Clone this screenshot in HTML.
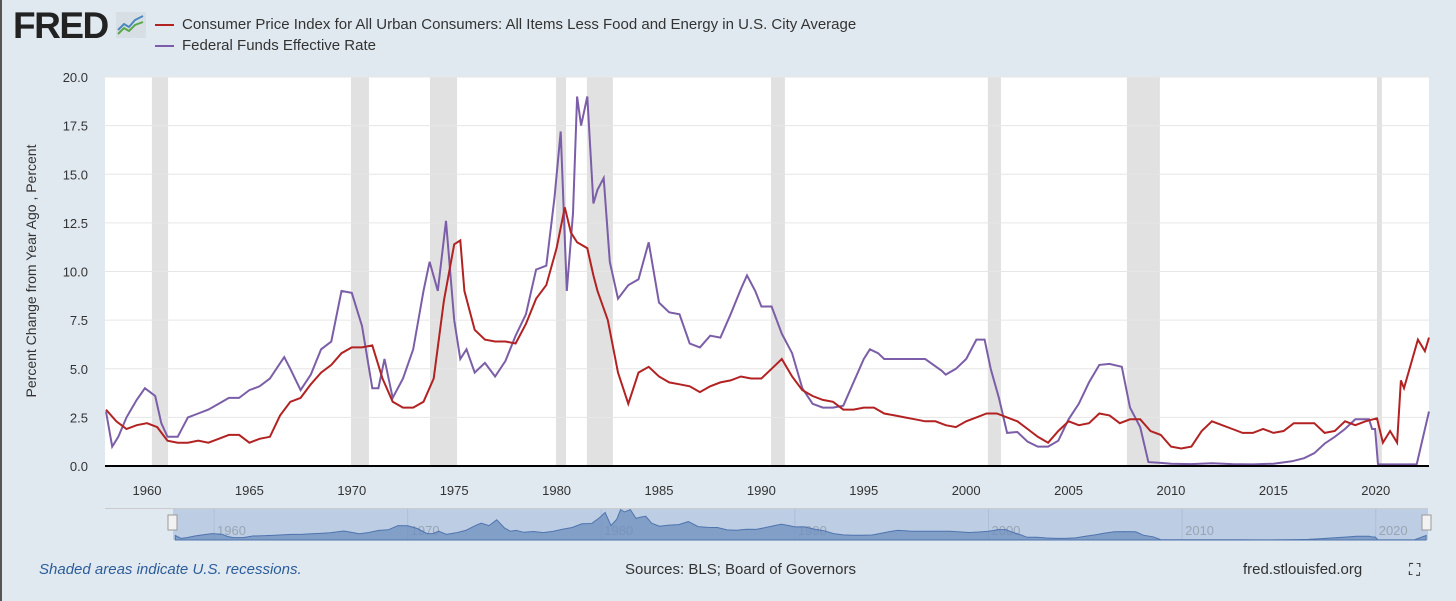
<!DOCTYPE html>
<html><head><meta charset="utf-8"><style>
body{margin:0;width:1456px;height:601px;background:#e1e9f0;font-family:"Liberation Sans",sans-serif;overflow:hidden;position:relative}
#lb{position:absolute;left:0;top:0;width:2px;height:601px;background:#555}
.t{position:absolute;white-space:nowrap}
</style></head><body>
<div id="lb"></div>
<div class="t" style="left:13px;top:5px;font-size:37px;font-weight:900;color:#222;letter-spacing:-1.5px">FRED</div>
<svg class="t" style="left:116px;top:12px" width="30" height="26"><rect width="30" height="26" fill="#d8dfe4"/><polyline points="2,18 8,12 13,15 19,8 27,4" fill="none" stroke="#4a88c0" stroke-width="2"/><polyline points="2,22 8,16 13,19 19,13 27,10" fill="none" stroke="#5aa84a" stroke-width="2"/></svg>
<div class="t" style="left:155px;top:16px;font-size:15px;color:#333"><span style="display:inline-block;width:19px;height:2px;background:#b22222;vertical-align:middle;margin-right:8px"></span>Consumer Price Index for All Urban Consumers: All Items Less Food and Energy in U.S. City Average</div>
<div class="t" style="left:155px;top:37px;font-size:15px;color:#333"><span style="display:inline-block;width:19px;height:2px;background:#7b5ea7;vertical-align:middle;margin-right:8px"></span>Federal Funds Effective Rate</div>
<svg id="c" width="1456" height="601" style="position:absolute;left:0;top:0"></svg>
<div class="t" style="left:39px;top:561px;font-size:15px;font-style:italic;color:#2b5d9b">Shaded areas indicate U.S. recessions.</div>
<div class="t" style="left:625px;top:561px;font-size:15px;color:#333">Sources: BLS; Board of Governors</div>
<div class="t" style="left:1243px;top:561px;font-size:15px;color:#333">fred.stlouisfed.org</div>
<div class="t" style="left:1409px;top:562px;font-size:16px;color:#222">⛶</div>
<script>
const cpiX=[1958,1958.5,1959,1959.5,1960,1960.5,1961,1961.5,1962,1962.5,1963,1963.5,1964,1964.5,1965,1965.5,1966,1966.5,1967,1967.5,1968,1968.5,1969,1969.5,1970,1970.5,1971,1971.5,1972,1972.5,1973,1973.5,1974,1974.5,1975,1975.3,1975.5,1976,1976.5,1977,1977.5,1978,1978.5,1979,1979.5,1980,1980.4,1980.7,1981,1981.5,1981.8,1982,1982.5,1983,1983.5,1984,1984.5,1985,1985.5,1986,1986.5,1987,1987.5,1988,1988.5,1989,1989.5,1990,1990.5,1991,1991.5,1992,1992.5,1993,1993.5,1994,1994.5,1995,1995.5,1996,1996.5,1997,1997.5,1998,1998.5,1999,1999.5,2000,2000.5,2001,2001.5,2002,2002.5,2003,2003.5,2004,2004.5,2005,2005.5,2006,2006.5,2007,2007.5,2008,2008.5,2009,2009.5,2010,2010.5,2011,2011.5,2012,2012.5,2013,2013.5,2014,2014.5,2015,2015.5,2016,2016.5,2017,2017.5,2018,2018.5,2019,2019.5,2020.06,2020.35,2020.7,2021.04,2021.23,2021.38,2022.06,2022.4,2022.6];
const cpiY=[2.9,2.3,1.9,2.1,2.2,2.0,1.3,1.2,1.2,1.3,1.2,1.4,1.6,1.6,1.2,1.4,1.5,2.6,3.3,3.5,4.2,4.8,5.2,5.8,6.1,6.1,6.2,4.5,3.3,3.0,3.0,3.3,4.5,8.5,11.4,11.6,9.0,7.0,6.5,6.4,6.4,6.3,7.3,8.6,9.3,11.2,13.3,12.0,11.5,11.2,9.8,9.0,7.5,4.8,3.2,4.8,5.1,4.6,4.3,4.2,4.1,3.8,4.1,4.3,4.4,4.6,4.5,4.5,5.0,5.5,4.6,3.9,3.6,3.4,3.3,2.9,2.9,3.0,3.0,2.7,2.6,2.5,2.4,2.3,2.3,2.1,2.0,2.3,2.5,2.7,2.7,2.5,2.3,1.9,1.5,1.2,1.8,2.3,2.1,2.2,2.7,2.6,2.2,2.4,2.4,1.8,1.6,1.0,0.9,1.0,1.8,2.3,2.1,1.9,1.7,1.7,1.9,1.7,1.8,2.2,2.2,2.2,1.7,1.8,2.3,2.1,2.3,2.45,1.2,1.8,1.2,4.4,4.0,6.5,5.9,6.6];
const ffX=[1958,1958.3,1958.6,1959,1959.5,1959.9,1960.4,1960.7,1961,1961.5,1962,1962.5,1963,1963.5,1964,1964.5,1965,1965.5,1966,1966.7,1967,1967.5,1968,1968.5,1969,1969.5,1970,1970.5,1971,1971.3,1971.6,1972,1972.5,1973,1973.5,1973.8,1974.2,1974.6,1975,1975.3,1975.6,1976,1976.5,1977,1977.5,1978,1978.5,1979,1979.5,1979.9,1980.2,1980.5,1980.8,1981,1981.2,1981.5,1981.8,1982,1982.3,1982.6,1983,1983.5,1984,1984.5,1985,1985.5,1986,1986.5,1987,1987.5,1988,1988.5,1989,1989.3,1989.7,1990,1990.5,1991,1991.5,1992,1992.5,1993,1993.5,1994,1994.5,1995,1995.3,1995.7,1996,1997,1998,1998.8,1999,1999.5,2000,2000.5,2000.9,2001.2,2001.6,2002,2002.5,2003,2003.5,2004,2004.5,2005,2005.5,2006,2006.5,2007,2007.6,2008,2008.5,2008.9,2009.5,2010,2011,2012,2013,2014,2015,2015.9,2016.5,2017,2017.5,2018,2018.5,2019,2019.67,2019.82,2019.97,2020.11,2021,2022.0,2022.6];
const ffY=[2.8,1.0,1.5,2.5,3.4,4.0,3.6,2.2,1.5,1.5,2.5,2.7,2.9,3.2,3.5,3.5,3.9,4.1,4.5,5.6,5.0,3.9,4.7,6.0,6.4,9.0,8.9,7.2,4.0,4.0,5.5,3.5,4.5,6.0,9.0,10.5,9.0,12.6,7.5,5.5,6.0,4.8,5.3,4.6,5.4,6.7,7.8,10.1,10.3,13.8,17.2,9.0,13.0,19.0,17.5,19.0,13.5,14.2,14.8,10.5,8.6,9.3,9.6,11.5,8.4,7.9,7.8,6.3,6.1,6.7,6.6,7.8,9.1,9.8,9.0,8.2,8.2,6.8,5.8,4.0,3.2,3.0,3.0,3.1,4.3,5.5,6.0,5.8,5.5,5.5,5.5,4.9,4.7,5.0,5.5,6.5,6.5,5.0,3.5,1.7,1.75,1.25,1.0,1.0,1.3,2.4,3.2,4.3,5.2,5.25,5.1,3.0,2.0,0.2,0.16,0.12,0.1,0.14,0.1,0.08,0.12,0.24,0.4,0.66,1.15,1.5,1.9,2.4,2.4,1.9,1.9,0.08,0.08,0.08,2.8];
const recStart=[1960.24,1969.96,1973.82,1979.97,1981.48,1990.47,2001.06,2007.85,2020.06];
const recEnd=[1961.03,1970.84,1975.14,1980.46,1982.75,1991.15,2001.7,2009.46,2020.3];
const yTicks=[0,2.5,5,7.5,10,12.5,15,17.5,20];
const xTicks=[1960,1965,1970,1975,1980,1985,1990,1995,2000,2005,2010,2015,2020];
const navTicks=[1960,1970,1980,1990,2000,2010,2020];

const NS="http://www.w3.org/2000/svg",svg=document.getElementById('c');
const L=105,R=1429,T=77,B=466,X0=1957.95,X1=2022.6;
const sx=v=>L+(v-X0)/(X1-X0)*(R-L), sy=v=>B-v/20*(B-T);
const NL=173,NR=1428;
const nx=v=>NL+(v-1957.88)/(2022.7-1957.88)*(NR-NL), ny=v=>540-v/20*32;
function el(t,a,p){const e=document.createElementNS(NS,t);for(const k in a)e.setAttribute(k,a[k]);(p||svg).appendChild(e);return e;}
let e=el('rect',{x:L,y:T,width:R-L,height:B-T,fill:'#fff'});

recStart.forEach((s,i)=>{const r=el('rect',{x:sx(s),y:T,width:sx(recEnd[i])-sx(s),height:B-T,fill:'#e1e1e1'});
});
yTicks.forEach(v=>{const g=el('line',{x1:L,x2:R,y1:sy(v),y2:sy(v),stroke:'#e6e6e6'});

const t=el('text',{x:88,y:sy(v)+5,'text-anchor':'end','font-size':13,fill:'#333'});t.textContent=v.toFixed(1);
});
xTicks.forEach(v=>{const t=el('text',{x:sx(v),y:495,'text-anchor':'middle','font-size':13,fill:'#333'});t.textContent=v;
});
const yt=el('text',{x:0,y:0,transform:'translate(36,271) rotate(-90)','text-anchor':'middle','font-size':14,fill:'#333'});
yt.textContent='Percent Change from Year Ago , Percent';

function path(xs,ys,fx,fy){return xs.map((x,i)=>(i?'L':'M')+fx(x).toFixed(1)+','+fy(ys[i]).toFixed(1)).join('');}
const p1=el('path',{d:path(ffX,ffY,sx,sy),fill:'none',stroke:'#7b5ea7','stroke-width':2});

const p2=el('path',{d:path(cpiX,cpiY,sx,sy),fill:'none',stroke:'#b22222','stroke-width':2});

const ax=el('line',{x1:L,x2:R,y1:B,y2:B,stroke:'#000','stroke-width':2});

const nl=el('line',{x1:L,x2:NR,y1:508.5,y2:508.5,stroke:'#ccc'});
const nb=el('rect',{x:NL,y:509,width:NR-NL,height:31,fill:'#bccde4'});

navTicks.forEach(v=>{const g=el('line',{x1:nx(v),x2:nx(v),y1:509,y2:540,stroke:'#aebfd8'});

const t=el('text',{x:nx(v)+3,y:535,'font-size':13,fill:'#9aa5b3'});t.textContent=v;
});
const na=el('path',{d:path(ffX,ffY,nx,ny)+'L'+nx(ffX[ffX.length-1])+',540L'+nx(ffX[0])+',540Z',fill:'#6f8fbf','fill-opacity':0.75,stroke:'#4f74ad'});

[NL,NR-1].forEach(x=>{const h=el('rect',{x:x-5,y:515,width:9,height:15,fill:'#f2f2f2',stroke:'#999'});
});
</script>
</body></html>
